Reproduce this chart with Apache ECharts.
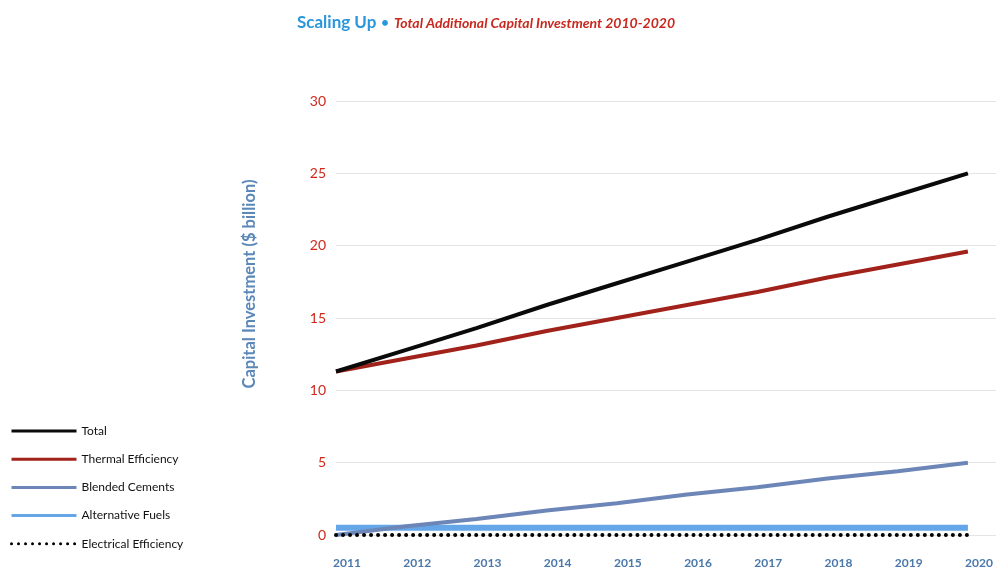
<!DOCTYPE html>
<html>
<head>
<meta charset="utf-8">
<script src="https://cdn.jsdelivr.net/npm/echarts@6/dist/echarts.min.js"></script>
<style>
  html, body { margin: 0; padding: 0; background: #fff; }
  #chart { width: 998px; height: 572px; }
</style>
</head>
<body>
<div id="chart"></div>
<script>
// Years on the x axis
const years = [2011, 2012, 2013, 2014, 2015, 2016, 2017, 2018, 2019, 2020];

// Capital investment, $ billion
const total = [11.3, 12.8, 14.3, 15.9, 17.4, 18.9, 20.4, 22.0, 23.5, 25.0];
const thermalEfficiency = [11.3, 12.2, 13.1, 14.1, 15.0, 15.9, 16.8, 17.8, 18.7, 19.6];
const blendedCements = [0.0, 0.6, 1.1, 1.7, 2.2, 2.8, 3.3, 3.9, 4.4, 5.0];
const alternativeFuels = [0.5, 0.5, 0.5, 0.5, 0.5, 0.5, 0.5, 0.5, 0.5, 0.5];
const electricalEfficiency = [0, 0, 0, 0, 0, 0, 0, 0, 0, 0];

const yTicks = [0, 5, 10, 15, 20, 25, 30];

const pair = (vals) => years.map((y, i) => [y, vals[i]]);

const chart = echarts.init(document.getElementById('chart'));

const font = 'Lato, "Open Sans", sans-serif';

chart.setOption({
  animation: false,
  title: {
    left: 292,
    top: 9,
    text: '{a|Scaling Up} {d|•} {b|Total Additional Capital Investment 2010-2020}',
    textStyle: {
      rich: {
        a: { fontFamily: font, fontWeight: 'bold', fontSize: 17, color: '#2a97dc' },
        d: { fontFamily: font, fontWeight: 'bold', fontSize: 13, color: '#2a97dc' },
        b: { fontFamily: font, fontStyle: 'italic', fontSize: 14, color: '#c8281e' }
      }
    }
  },
  legend: {
    orient: 'vertical',
    left: 5,
    top: 419,
    itemWidth: 65,
    itemHeight: 14,
    itemGap: 14.2,
    itemStyle: { opacity: 0 },
    lineStyle: { width: 3 },
    textStyle: { fontFamily: font, fontSize: 12, color: '#111', lineHeight: 14 },
    data: ['Total', 'Thermal Efficiency', 'Blended Cements', 'Alternative Fuels', 'Electrical Efficiency']
  },
  grid: { left: 336, right: 2, top: 101, bottom: 37 },
  xAxis: {
    type: 'value',
    min: 2011,
    max: 2020.4,
    interval: 1,
    axisLine: { show: false },
    axisTick: { show: false },
    splitLine: { show: false },
    axisLabel: {
      margin: 22,
      padding: [0, 0, 0, 22],
      showMaxLabel: false,
      fontFamily: font,
      fontWeight: 'bold',
      fontSize: 12,
      color: '#4a78ab',
      formatter: (v) => (Number.isInteger(v) && years.includes(v)) ? String(v) : ''
    }
  },
  yAxis: {
    type: 'value',
    min: yTicks[0],
    max: yTicks[yTicks.length - 1],
    interval: 5,
    name: 'Capital Investment ($ billion)',
    nameLocation: 'middle',
    nameGap: 78,
    nameTextStyle: {
      fontFamily: font, fontWeight: 'bold', fontSize: 16.5, color: '#5b88b8',
      padding: [0, 0, 0, 68]
    },
    axisLine: { show: false },
    axisTick: { show: false },
    splitLine: { lineStyle: { color: '#e4e4e4', width: 1 } },
    axisLabel: { margin: 10, fontFamily: font, fontSize: 14, color: '#d0281c' }
  },
  series: [
    {
      name: 'Total', type: 'line', data: pair(total), symbol: 'none', z: 5,
      lineStyle: { color: '#0a0a0a', width: 4 }, itemStyle: { color: '#0a0a0a' }
    },
    {
      name: 'Thermal Efficiency', type: 'line', data: pair(thermalEfficiency), symbol: 'none', z: 4,
      lineStyle: { color: '#a1221a', width: 4 }, itemStyle: { color: '#a1221a' }
    },
    {
      name: 'Blended Cements', type: 'line', data: pair(blendedCements), symbol: 'none', z: 3,
      lineStyle: { color: '#6d86b8', width: 4 }, itemStyle: { color: '#6d86b8' }
    },
    {
      name: 'Alternative Fuels', type: 'line', data: pair(alternativeFuels), symbol: 'none', z: 2,
      lineStyle: { color: '#64a6e8', width: 6 }, itemStyle: { color: '#64a6e8' }
    },
    {
      name: 'Electrical Efficiency', type: 'line', data: pair(electricalEfficiency), symbol: 'none', z: 6,
      lineStyle: { color: '#000', width: 4, type: [0.01, 7], cap: 'round' }, itemStyle: { color: '#000' }
    }
  ]
});
</script>
</body>
</html>
